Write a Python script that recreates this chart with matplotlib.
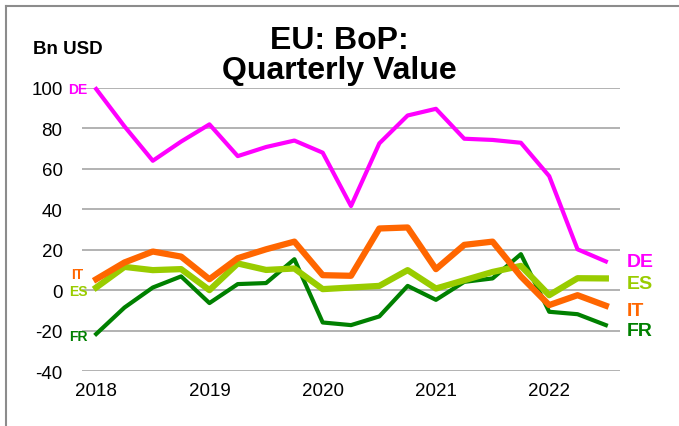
import numpy as np
import matplotlib.pyplot as plt

plt.rcParams['font.family'] = ['Liberation Sans', 'DejaVu Sans']
plt.rcParams['axes.unicode_minus'] = False

# quarterly points 2018Q1 .. 2022Q3
quarters = ['2018Q1', '2018Q2', '2018Q3', '2018Q4', '2019Q1', '2019Q2', '2019Q3', '2019Q4',
            '2020Q1', '2020Q2', '2020Q3', '2020Q4', '2021Q1', '2021Q2', '2021Q3', '2021Q4',
            '2022Q1', '2022Q2', '2022Q3']
year_labels = ['2018', '2019', '2020', '2021', '2022']

de = [99.5, 81, 64, 73.5, 82, 66.3, 70.8, 74, 68, 41.6, 72.6, 86.4, 89.7, 74.9, 74.3, 72.9, 56.4, 20.2, 14.2]
it = [5.4, 13.7, 19.1, 16.6, 5.4, 15.8, 20.2, 24.0, 7.4, 7.1, 30.5, 31.0, 10.4, 22.4, 24.0, 6.8, -7.4, -2.5, -7.7]
es = [1.3, 11.5, 9.9, 10.4, 0.0, 13.2, 10.0, 10.7, 0.5, 1.3, 2.1, 9.9, 0.8, 4.9, 9.0, 12.0, -2.5, 5.9, 5.8]
fr = [-21.7, -8.6, 1.3, 6.8, -6.4, 3.0, 3.5, 15.3, -16.0, -17.3, -13.0, 2.1, -4.8, 4.1, 5.8, 17.8, -10.7, -11.9, -17.3]

x = np.arange(len(quarters))

fig = plt.figure(figsize=(6.79, 4.27), dpi=100)
ax = fig.add_axes([0.1208, 0.1288, 0.7923, 0.6628])

# grid lines
for v in range(-40, 101, 20):
    ax.axhline(v, color='#a6a6a6', linewidth=1.2, zorder=0)

# series (drawing order: FR, ES, IT, DE)
ax.plot(x, fr, color='#008000', linewidth=3.0, clip_on=False, zorder=2)
ax.plot(x, es, color='#99cc00', linewidth=4.5, clip_on=False, zorder=3)
ax.plot(x, it, color='#ff6600', linewidth=4.5, clip_on=False, zorder=4)
ax.plot(x, de, color='#ff00ff', linewidth=3.0, clip_on=False, zorder=5)

ax.set_xlim(-0.5, len(quarters) - 0.5)
ax.set_ylim(-40, 100)
ax.set_yticks(range(-40, 101, 20))
ax.set_xticks(x[::4])
ax.set_xticklabels(year_labels)
ax.tick_params(axis='both', length=0, labelsize=13.5)
ax.tick_params(axis='y', pad=14)
ax.tick_params(axis='x', pad=8)
for s in ax.spines.values():
    s.set_visible(False)

# end labels
ax.text(18.75, de[-1], 'DE', color='#ff00ff', fontsize=14, fontweight='bold', va='center')
ax.text(18.75, es[-1] - 2.5, 'ES', color='#99cc00', fontsize=14, fontweight='bold', va='center')
ax.text(18.75, it[-1] - 2.5, 'IT', color='#ff6600', fontsize=14, fontweight='bold', va='center')
ax.text(18.75, fr[-1] - 2.5, 'FR', color='#008000', fontsize=14, fontweight='bold', va='center')

# start labels
ax.text(-0.3, de[0], 'DE', color='#ff00ff', fontsize=10, fontweight='bold', va='center', ha='right')
ax.text(-0.45, it[0] + 2.5, 'IT', color='#ff6600', fontsize=10, fontweight='bold', va='center', ha='right')
ax.text(-0.3, es[0] - 1.5, 'ES', color='#99cc00', fontsize=10, fontweight='bold', va='center', ha='right')
ax.text(-0.3, fr[0] - 1.0, 'FR', color='#008000', fontsize=10, fontweight='bold', va='center', ha='right')

fig.text(0.5, 0.94, 'EU: BoP:\nQuarterly Value', ha='center', va='top',
         fontsize=23, fontweight='bold', linespacing=1.0)
fig.text(0.049, 0.883, 'Bn USD', ha='left', va='center', fontsize=13.5, fontweight='bold')

# outer frame
fig.add_artist(plt.Line2D([0.009, 0.009], [0, 0.984], color='#8c8c8c', linewidth=1.5))
fig.add_artist(plt.Line2D([0.009, 1.0], [0.984, 0.984], color='#8c8c8c', linewidth=1.5))

fig.savefig('out.png', dpi=100)
